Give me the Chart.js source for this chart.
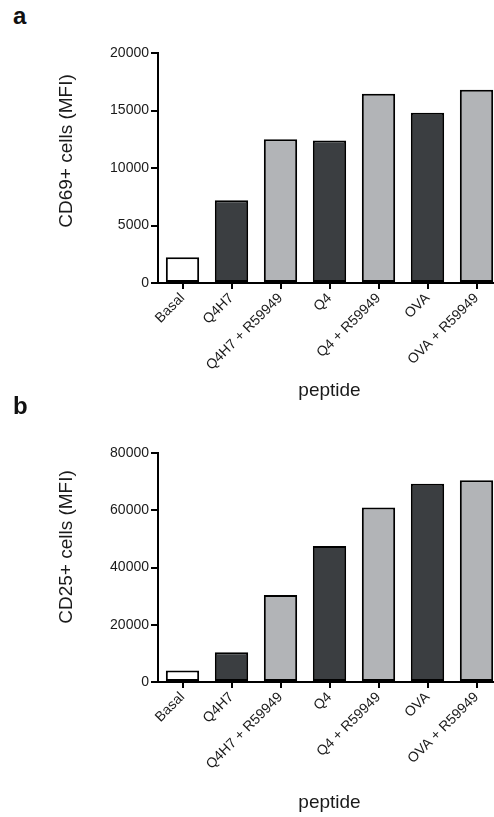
<!DOCTYPE html>
<html>
<head>
<meta charset="utf-8">
<script src="https://cdn.jsdelivr.net/npm/chart.js"></script>
<style>
  html, body { margin: 0; padding: 0; background: #ffffff; }
  body { width: 494px; height: 817px; overflow: hidden; position: relative; }
  canvas { position: absolute; left: 0; }
  #chartA { top: 0; }
  #chartB { top: 400px; }
  .panel-label {
    position: absolute; left: 13px;
    font: bold 24px "Liberation Sans", Arial, sans-serif;
    line-height: 24px; color: #111111;
  }
</style>
</head>
<body>
<div class="panel-label" style="top:4px">a</div>
<canvas id="chartA" width="510" height="400"></canvas>
<div class="panel-label" style="top:394px">b</div>
<canvas id="chartB" width="510" height="417"></canvas>

<script>
// peptide conditions on the x axis
const categories = ['Basal', 'Q4H7', 'Q4H7 + R59949', 'Q4', 'Q4 + R59949', 'OVA', 'OVA + R59949'];

// panel a: CD69+ cells (MFI)
const cd69Values = [2250, 7200, 12500, 12400, 16450, 14800, 16800];
const cd69Ticks = [0, 5000, 10000, 15000, 20000];

// panel b: CD25+ cells (MFI)
const cd25Values = [4000, 10400, 30400, 47500, 61000, 69300, 70500];
const cd25Ticks = [0, 20000, 40000, 60000, 80000];

const THEME = {
  text: '#1a1a1a',
  axis: '#000000',
  white: '#ffffff',
  dark: '#3b3e41',
  light: '#b2b4b7'
};
const barColors = [THEME.white, THEME.dark, THEME.light, THEME.dark, THEME.light, THEME.dark, THEME.light];

Chart.defaults.font.family = '"Liberation Sans", Arial, sans-serif';
Chart.defaults.color = THEME.text;

// rotated y axis title, drawn beside the axis
const sideTitle = {
  id: 'sideTitle',
  afterDraw(chart, args, opts) {
    const ctx = chart.ctx;
    ctx.save();
    ctx.translate(opts.x, opts.y);
    ctx.rotate(-Math.PI / 2);
    ctx.font = '19px "Liberation Sans", Arial, sans-serif';
    ctx.fillStyle = THEME.text;
    ctx.textAlign = 'center';
    ctx.textBaseline = 'middle';
    ctx.fillText(opts.text, 0, 0);
    ctx.restore();
  }
};

function createPanel(canvasId, values, ticks, yTitle, titleY, xHeight, titlePad) {
  const ctx = document.getElementById(canvasId).getContext('2d');
  return new Chart(ctx, {
    type: 'bar',
    data: {
      labels: categories,
      datasets: [{
        data: values,
        backgroundColor: barColors,
        borderColor: THEME.axis,
        borderWidth: 2,
        borderSkipped: false,
        barPercentage: 0.68,
        categoryPercentage: 1
      }]
    },
    options: {
      responsive: false,
      animation: false,
      devicePixelRatio: 1,
      layout: { padding: { top: 53, right: 9, left: 0, bottom: 0 } },
      plugins: {
        legend: { display: false },
        tooltip: { enabled: false },
        sideTitle: { text: yTitle, x: 67, y: titleY }
      },
      scales: {
        x: {
          afterFit: s => { s.height = xHeight; },
          border: { display: true, color: THEME.axis, width: 2 },
          grid: {
            offset: false,
            drawOnChartArea: false,
            drawTicks: true,
            tickLength: 6,
            color: THEME.axis,
            lineWidth: 2
          },
          ticks: {
            autoSkip: false,
            minRotation: 45,
            maxRotation: 45,
            padding: 1,
            color: THEME.text,
            font: { size: 14 }
          },
          title: {
            display: true,
            text: 'peptide',
            color: THEME.text,
            font: { size: 19, lineHeight: 1 },
            padding: { top: 0, bottom: titlePad }
          }
        },
        y: {
          min: ticks[0],
          max: ticks[ticks.length - 1],
          afterFit: s => { s.width = 158; },
          afterBuildTicks: s => { s.ticks = ticks.map(v => ({ value: v })); },
          border: { display: true, color: THEME.axis, width: 2 },
          grid: {
            drawOnChartArea: false,
            drawTicks: true,
            tickLength: 7,
            color: THEME.axis,
            lineWidth: 2
          },
          ticks: {
            padding: 2,
            color: THEME.text,
            font: { size: 14 },
            callback: v => String(v)
          }
        }
      }
    },
    plugins: [sideTitle]
  });
}

createPanel('chartA', cd69Values, cd69Ticks, 'CD69+ cells (MFI)', 151, 117, 0);
createPanel('chartB', cd25Values, cd25Ticks, 'CD25+ cells (MFI)', 147, 135, 5);
</script>
</body>
</html>
